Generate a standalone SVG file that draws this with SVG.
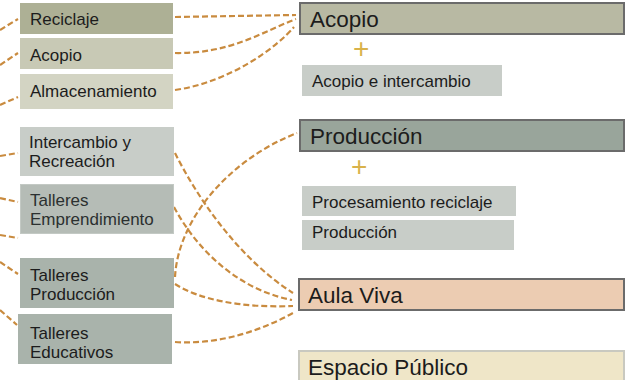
<svg xmlns="http://www.w3.org/2000/svg" width="635" height="380" viewBox="0 0 635 380">
<style>
text{font-family:"Liberation Sans",Arial,sans-serif;fill:#1c1c1c}
.s{font-size:17px}
.b{font-size:22.5px}
.plus{font-size:28px;fill:#d9b24a}
.c path{fill:none;stroke:#c98b3f;stroke-width:2.2;stroke-dasharray:6 3}
.big{stroke:#6b6b6b;stroke-width:2}
</style>
<g class="c" id="connectors">
<path d="M0,30 L18,19"/>
<path d="M0,65 L18,53"/>
<path d="M0,105 L18,97"/>
<path d="M0,156 L18,153"/>
<path d="M0,198 L18,202"/>
<path d="M0,235 L18,238"/>
<path d="M0,262 L18,274"/>
<path d="M0,310 L17,325"/>
<path d="M175,17 L296,15"/>
<path d="M175,53 C230,54 262,32 296,19"/>
<path d="M175,90 C230,82 276,48 294,27"/>
<path d="M175,153 C197,197 238,258 293,293"/>
<path d="M174,207 C198,252 240,290 292,300"/>
<path d="M175,277 C178,220 228,160 297,133"/>
<path d="M175,284 C200,300 242,308 293,306"/>
<path d="M175,342 C220,345 262,330 293,313"/>
</g>
<g id="reciclaje"><rect x="20" y="3" width="153" height="31" fill="#adb095"/><text class="s" x="30" y="25">Reciclaje</text></g>
<g id="acopio-l"><rect x="20" y="38" width="153" height="31" fill="#c8c9b5"/><text class="s" x="30" y="61">Acopio</text></g>
<g id="almacenamiento"><rect x="20" y="74" width="153" height="35" fill="#d3d4c3"/><text class="s" x="30" y="97">Almacenamiento</text></g>
<g id="intercambio"><rect x="20" y="127" width="154" height="49" fill="#c8cdc8"/><text class="s" x="29" y="147.6">Intercambio y</text><text class="s" x="29" y="167">Recreación</text></g>
<g id="emprendimiento"><rect x="20.5" y="184.5" width="153" height="49" fill="#b5bcb6" stroke="#c3c9c4"/><text class="s" x="30" y="205.6" style="fill:#2b3030">Talleres</text><text class="s" x="30" y="225" style="fill:#2b3030">Emprendimiento</text></g>
<g id="t-produccion"><rect x="20" y="258" width="154" height="50" fill="#a9b3ab"/><text class="s" x="30" y="280.6">Talleres</text><text class="s" x="30" y="300">Producción</text></g>
<g id="t-educativos"><rect x="18" y="314" width="154" height="50" fill="#a9b3ab"/><text class="s" x="30" y="338.6">Talleres</text><text class="s" x="30" y="358">Educativos</text></g>
<g id="acopio-r"><rect class="big" x="300" y="3" width="324" height="31" fill="#b8b9a3"/><text class="b" x="310" y="26.5">Acopio</text></g>
<text class="plus" x="353" y="58">+</text>
<g id="acopio-intercambio"><rect x="302" y="65" width="200" height="31" fill="#c8cdc8"/><text class="s" x="312" y="87">Acopio e intercambio</text></g>
<g id="produccion-r"><rect class="big" x="300" y="120" width="324" height="31" fill="#99a59b"/><text class="b" x="310" y="143.5">Producción</text></g>
<text class="plus" x="351" y="176">+</text>
<g id="procesamiento"><rect x="302" y="186" width="214" height="30" fill="#c8cdc8"/><text class="s" x="312" y="208">Procesamiento reciclaje</text></g>
<g id="produccion-s"><rect x="302" y="220" width="212" height="30" fill="#c8cdc8"/><text class="s" x="312" y="238">Producción</text></g>
<g id="aula-viva"><rect class="big" x="299" y="279" width="325" height="31" fill="#ecccb2"/><text class="b" x="308" y="302.5">Aula Viva</text></g>
<g id="espacio-publico"><rect x="299" y="351" width="325" height="32" fill="#efe6c8" stroke="#c9c9c0" stroke-width="2"/><text class="b" x="308" y="375">Espacio Público</text></g>
</svg>
